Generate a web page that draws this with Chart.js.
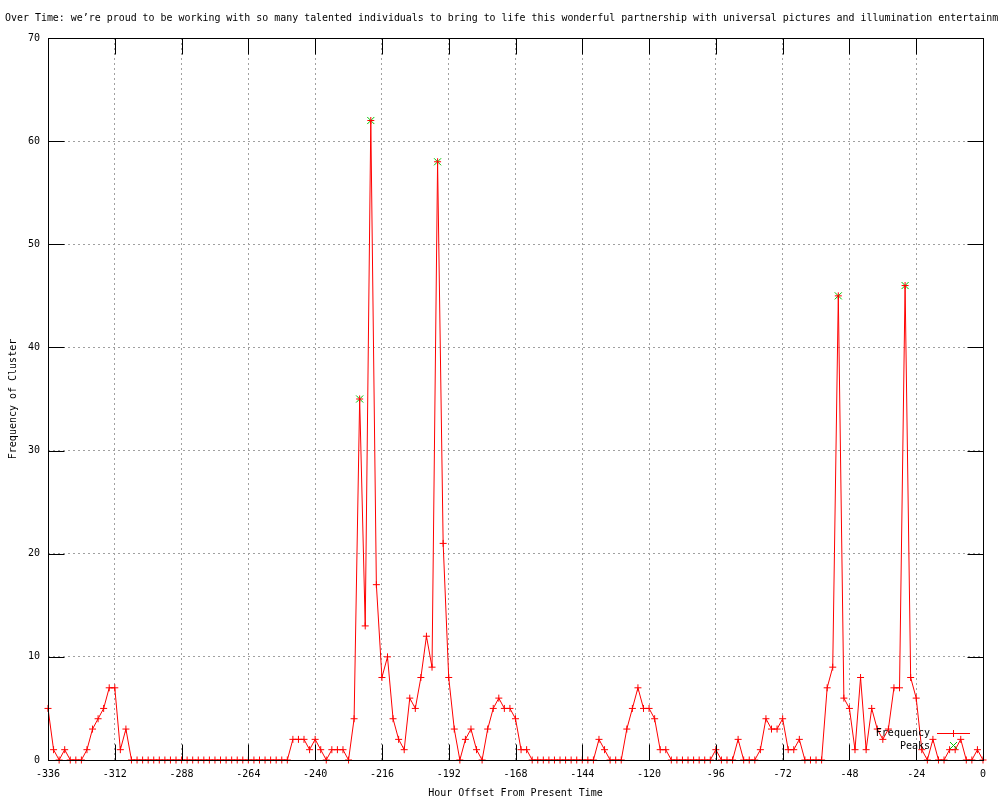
<!DOCTYPE html>
<html>
<head>
<meta charset="utf-8">
<script src="https://cdn.jsdelivr.net/npm/chart.js@4/dist/chart.umd.min.js"></script>
<style>
  html, body { margin: 0; padding: 0; background: #fff; }
  #wrap { width: 1000px; height: 800px; }
</style>
</head>
<body>
<div id="wrap"><canvas id="freqChart"></canvas></div>
<script>
// hourly buckets, every 2 hours from -336 to 0
const START_HOUR = -336;
const STEP_HOURS = 2;

const frequency = [
  5, 1, 0, 1, 0, 0, 0, 1, 3, 4, 5, 7, 7, 1, 3,
  0, 0, 0, 0, 0, 0, 0, 0, 0, 0, 0, 0, 0, 0, 0, 0, 0, 0, 0, 0, 0, 0, 0, 0, 0, 0, 0, 0, 0,
  2, 2, 2, 1, 2, 1, 0, 1, 1, 1, 0, 4, 35, 13, 62, 17, 8, 10, 4, 2, 1, 6, 5, 8, 12, 9,
  58, 21, 8, 3, 0, 2, 3, 1, 0, 3, 5, 6, 5, 5, 4, 1, 1,
  0, 0, 0, 0, 0, 0, 0, 0, 0, 0, 0, 0,
  2, 1, 0, 0, 0, 3, 5, 7, 5, 5, 4, 1, 1,
  0, 0, 0, 0, 0, 0, 0, 0,
  1, 0, 0, 0, 2, 0, 0, 0, 1, 4, 3, 3, 4, 1, 1, 2, 0, 0, 0, 0, 7, 9, 45, 6, 5, 1, 8, 1,
  5, 3, 2, 3, 7, 7, 46, 8, 6, 1, 0, 2, 0, 0, 1, 1, 2, 0, 0, 1, 0
];

const peakHours = [-224, -220, -196, -52, -28];
const peakValues = [35, 62, 58, 45, 46];

const xTicks = { min: -336, max: 0, step: 24 };
const yTicks = { min: 0, max: 70, step: 10 };

const titleText = "Over Time: we\u2019re proud to be working with so many talented individuals to bring to life this wonderful partnership with universal pictures and illumination entertainm";

const freqPoints = frequency.map((v, i) => ({ x: START_HOUR + i * STEP_HOURS, y: v }));
const peakPoints = peakHours.map((h, i) => ({ x: h, y: peakValues[i] }));

const MONO = "'DejaVu Sans Mono', 'Liberation Mono', monospace";
const RED = '#ff0000';
const GREEN = '#00c000';

// title, border, inward tics and key, gnuplot style
const gnuplotDecor = {
  id: 'gnuplotDecor',
  afterDraw(chart) {
    const { ctx, chartArea: a, scales } = chart;
    ctx.save();
    ctx.font = '9.95px ' + MONO;
    ctx.fillStyle = '#000';
    ctx.textBaseline = 'middle';
    ctx.textAlign = 'left';
    ctx.fillText(titleText, 5, 18);

    ctx.strokeStyle = '#000';
    ctx.lineWidth = 1;
    ctx.setLineDash([]);
    const L = Math.round(a.left) + 0.5, R = Math.round(a.right) + 0.5;
    const T = Math.round(a.top) + 0.5, B = Math.round(a.bottom) + 0.5;
    ctx.strokeRect(L, T, R - L, B - T);

    const tl = 16;
    ctx.beginPath();
    for (let v = yTicks.min; v <= yTicks.max; v += yTicks.step) {
      const y = Math.round(scales.y.getPixelForValue(v)) + 0.5;
      ctx.moveTo(L, y); ctx.lineTo(L + tl, y);
      ctx.moveTo(R, y); ctx.lineTo(R - tl, y);
    }
    for (let v = xTicks.min; v <= xTicks.max; v += xTicks.step) {
      const x = Math.round(scales.x.getPixelForValue(v)) + 0.5;
      ctx.moveTo(x, B); ctx.lineTo(x, B - tl);
      ctx.moveTo(x, T); ctx.lineTo(x, T + tl);
    }
    ctx.stroke();

    // key
    ctx.textAlign = 'right';
    ctx.fillStyle = '#000';
    ctx.font = '10px ' + MONO;
    ctx.fillText('Frequency', 930, 733);
    ctx.fillText('Peaks', 930, 746);
    ctx.strokeStyle = RED;
    ctx.beginPath();
    ctx.moveTo(937, 733.5); ctx.lineTo(970, 733.5);
    ctx.moveTo(953.5, 730); ctx.lineTo(953.5, 737);
    ctx.stroke();
    ctx.strokeStyle = GREEN;
    ctx.beginPath();
    ctx.moveTo(950, 742); ctx.lineTo(957, 749);
    ctx.moveTo(957, 742); ctx.lineTo(950, 749);
    ctx.stroke();
    ctx.restore();
  }
};

new Chart(document.getElementById('freqChart'), {
  type: 'line',
  data: {
    datasets: [
      {
        label: 'Frequency',
        data: freqPoints,
        borderColor: RED,
        backgroundColor: RED,
        borderWidth: 1,
        pointStyle: 'cross',
        pointRadius: 3.5,
        pointBorderWidth: 1,
        pointBorderColor: RED,
        tension: 0,
        clip: false,
        order: 1
      },
      {
        label: 'Peaks',
        data: peakPoints,
        showLine: false,
        pointStyle: 'crossRot',
        pointRadius: 5,
        pointBorderWidth: 1,
        pointBorderColor: GREEN,
        borderColor: GREEN,
        backgroundColor: GREEN,
        clip: false,
        order: 2
      }
    ]
  },
  options: {
    responsive: true,
    maintainAspectRatio: false,
    animation: false,
    events: [],
    layout: { padding: { top: 38, right: 17, left: 0, bottom: 0 } },
    plugins: {
      legend: { display: false },
      tooltip: { enabled: false },
      title: { display: false }
    },
    scales: {
      x: {
        type: 'linear',
        min: xTicks.min,
        max: xTicks.max,
        afterFit: (s) => { s.height = 40; },
        ticks: {
          stepSize: xTicks.step,
          color: '#000',
          font: { family: MONO, size: 10 },
          padding: 8,
          maxRotation: 0,
          autoSkip: false
        },
        grid: { color: '#a0a0a0', drawTicks: false, lineWidth: 1 },
        border: { display: false, dash: [2, 3] },
        title: {
          display: true,
          text: 'Hour Offset From Present Time',
          color: '#000',
          font: { family: MONO, size: 10 },
          padding: { top: 0, bottom: 1 }
        }
      },
      y: {
        min: yTicks.min,
        max: yTicks.max,
        afterFit: (s) => { s.width = 48; },
        ticks: {
          stepSize: yTicks.step,
          color: '#000',
          font: { family: MONO, size: 10 },
          padding: 8
        },
        grid: { color: '#a0a0a0', drawTicks: false, lineWidth: 1 },
        border: { display: false, dash: [2, 3] },
        title: {
          display: true,
          text: 'Frequency of Cluster',
          color: '#000',
          font: { family: MONO, size: 10 },
          padding: { top: 7, bottom: 0 }
        }
      }
    }
  },
  plugins: [gnuplotDecor]
});
</script>
</body>
</html>
